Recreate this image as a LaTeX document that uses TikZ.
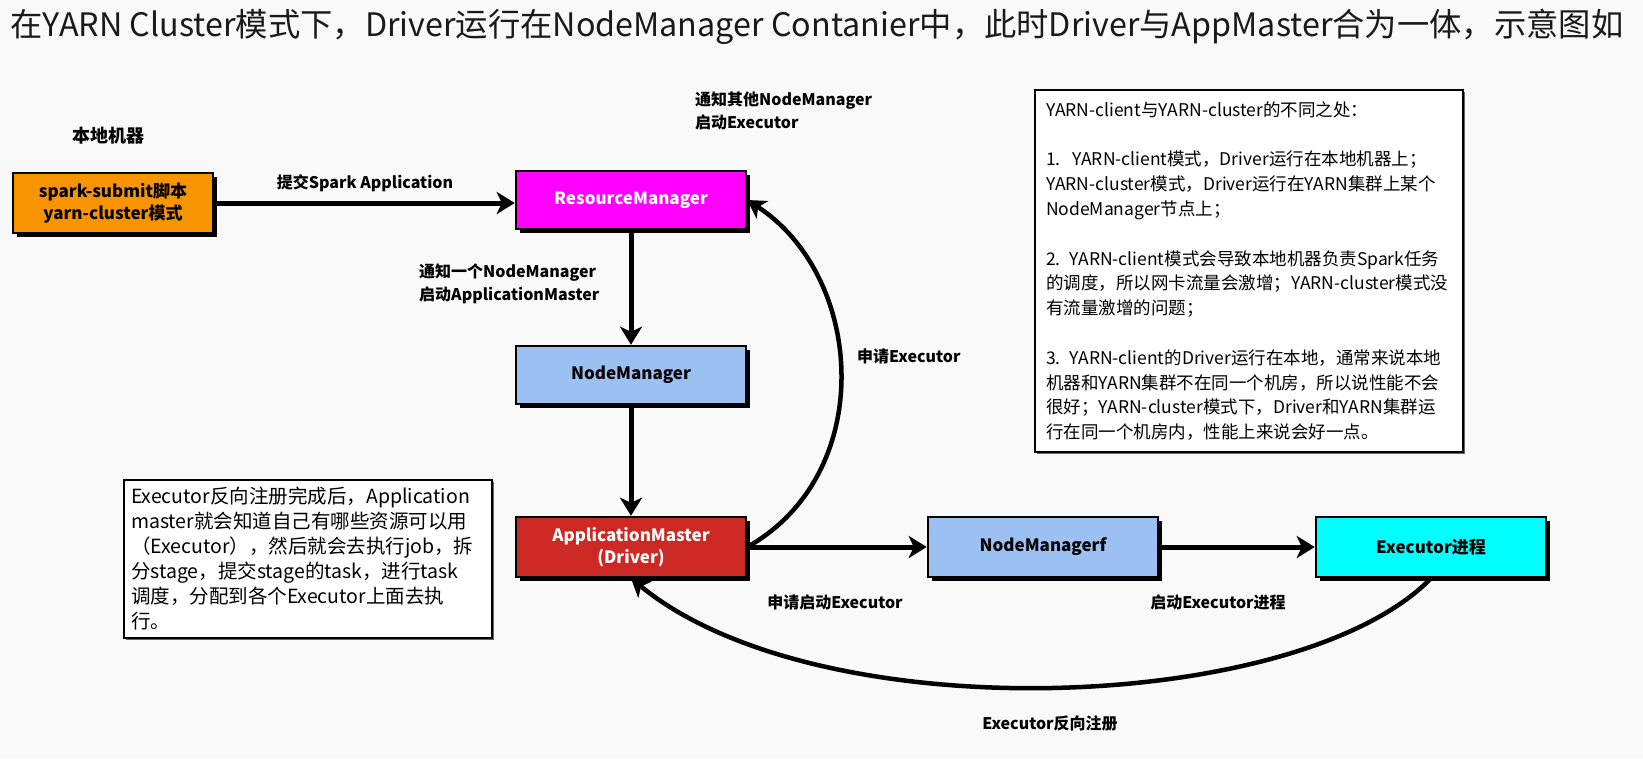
\documentclass[tikz,border=0pt]{standalone}
\usepackage{fontspec}
\setmainfont{Noto Sans CJK SC}
\usetikzlibrary{arrows.meta,shadows}
\usepackage{xcolor}
\definecolor{yBg}{HTML}{F9F9F9}
\definecolor{yInk}{HTML}{1A1A1A}
\definecolor{yOrange}{HTML}{F79400}
\definecolor{yMagenta}{HTML}{FF00FF}
\definecolor{yBlue}{HTML}{9CC0F2}
\definecolor{yRed}{HTML}{CC2924}
\definecolor{yCyan}{HTML}{00FFFF}

\tikzset{
  procbox/.style={draw=black, line width=2.5pt, minimum width=230pt,
    minimum height=58pt, inner sep=0pt, align=center, text=black,
    font=\bfseries\fontsize{17}{22}\selectfont,
    drop shadow={shadow xshift=4pt, shadow yshift=-4pt, fill=black, opacity=1}},
  notebox/.style={draw=black, line width=2pt, fill=white, anchor=north west,
    align=left, inner ysep=0pt, text=black,
    drop shadow={shadow xshift=1.5pt, shadow yshift=-1.5pt, fill=black!60, opacity=1}},
  lbl/.style={inner sep=0pt, text=black, font=\bfseries\fontsize{16}{23}\selectfont},
  flow/.style={line width=5pt, line cap=butt,
    -{Stealth[length=18pt, width=22pt, inset=5pt]}},
  curvearrow/.style={line width=4.5pt, line cap=butt,
    -{Stealth[length=18pt, width=21pt, inset=5pt]}},
}

\begin{document}
\begin{tikzpicture}[x=1pt, y=-1pt, line cap=round]

% canvas
\fill[yBg] (0,0) rectangle (1643,758);
\useasboundingbox (0,0) rectangle (1643,758);

% --- title ---
\node[anchor=west, inner sep=0, text=yInk, font=\fontsize{32.3}{38}\selectfont]
  (title) at (10,27)
  {在YARN Cluster模式下，Driver运行在NodeManager Contanier中，此时Driver与AppMaster合为一体，示意图如};

% --- boxes ---
\node[procbox, fill=yOrange, minimum width=200pt, minimum height=60pt]
  (submit) at (113,203) {spark-submit脚本\\yarn-cluster模式};
\node[procbox, fill=yMagenta, text=white] (rm) at (631,200) {ResourceManager};
\node[procbox, fill=yBlue] (nm) at (631,375) {NodeManager};
\node[procbox, fill=yRed, text=white, minimum height=60pt]
  (am) at (631,547) {ApplicationMaster\\(Driver)};
\node[procbox, fill=yBlue, minimum height=60pt] (nmf) at (1043,547) {NodeManagerf};
\node[procbox, fill=yCyan, minimum height=60pt] (exec) at (1431,547) {Executor进程};

% --- connectors ---
\draw[flow] (submit.east) -- (submit.east -| rm.west);
\draw[flow] (rm) -- (nm);
\draw[flow] (nm) -- (am);
\draw[flow] (am) -- (nmf);
\draw[flow] (nmf) -- (exec);
\draw[curvearrow] (am.east) .. controls +(130,-73) and +(118,77) .. (rm.east);
\draw[curvearrow] (exec.south) .. controls +(-131,135) and +(189,155) .. (am.south);

% --- labels ---
\node[lbl, font=\bfseries\fontsize{18}{23}\selectfont] (local) at (108,136) {本地机器};
\node[lbl] (submitlbl) at (365,183) {提交Spark Application};
\node[lbl, anchor=west, align=left] (notifyother) at (695,111)
  {通知其他NodeManager\\启动Executor};
\node[lbl, anchor=west, align=left] (notifyone) at (419,284)
  {通知一个NodeManager\\启动ApplicationMaster};
\node[lbl, anchor=west] (applylbl) at (857,356) {申请Executor};
\node[lbl] (startreq) at (835,602) {申请启动Executor};
\node[lbl] (startexec) at (1218,602) {启动Executor进程};
\node[lbl] (register) at (1050,723) {Executor反向注册};

% --- notes ---
\node[notebox, text width=354pt, minimum height=158pt, inner xsep=7pt,
      font=\fontsize{19.5}{25}\selectfont] (leftnote) at (123,479)
  {Executor反向注册完成后，Application\\
   master就会知道自己有哪些资源可以用\\
   （Executor），然后就会去执行job，拆\\
   分stage，提交stage的task，进行task\\
   调度，分配到各个Executor上面去执\\
   行。};

\node[notebox, text width=406pt, minimum height=362pt, inner xsep=11pt,
      font=\fontsize{17.5}{24.8}\selectfont] (rightnote) at (1034,89)
  {YARN-client与YARN-cluster的不同之处：\\[24.8pt]
   1.~~YARN-client模式，Driver运行在本地机器上；\\
   YARN-cluster模式，Driver运行在YARN集群上某个\\
   NodeManager节点上；\\[24.8pt]
   2. YARN-client模式会导致本地机器负责Spark任务\\
   的调度，所以网卡流量会激增；YARN-cluster模式没\\
   有流量激增的问题；\\[24.8pt]
   3. YARN-client的Driver运行在本地，通常来说本地\\
   机器和YARN集群不在同一个机房，所以说性能不会\\
   很好；YARN-cluster模式下，Driver和YARN集群运\\
   行在同一个机房内，性能上来说会好一点。};

\end{tikzpicture}
\end{document}
